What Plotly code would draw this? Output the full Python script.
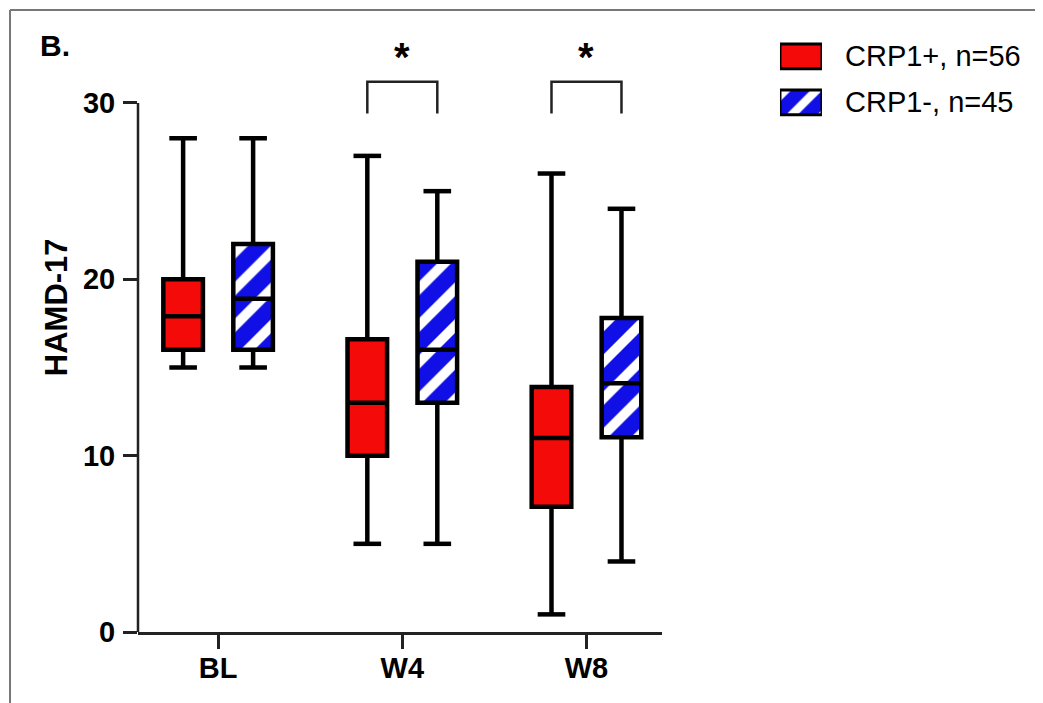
import plotly.graph_objects as go

# ---- data ----
categories = ["BL", "W4", "W8"]
cat_index = [0, 1, 2]

pos_name = "CRP1+, n=56"
pos_low = [15, 5, 1]
pos_q1 = [16, 10, 7.1]
pos_median = [17.9, 13, 11]
pos_q3 = [20, 16.6, 13.9]
pos_high = [28, 27, 26]

neg_name = "CRP1-, n=45"
neg_low = [15, 5, 4]
neg_q1 = [16, 13, 11.05]
neg_median = [18.9, 16, 14.1]
neg_q3 = [22, 21, 17.8]
neg_high = [28, 25, 24]

sig_categories = [1, 2]      # W4, W8 marked significant
sig_label = "*"
sig_bracket_top = 31.2
sig_bracket_bottom = 29.4
sig_star_y = 32.6

y_ticks = [0, 10, 20, 30]
y_title = "HAMD-17"

# ---- styling ----
RED = "#f50a0a"
BLUE = "#1010e6"
OFFSET = 0.19
BOX_W = 0.215
CAP_HALF = 0.075
LW = 4.5
FONT = "Liberation Sans, Arial, sans-serif"
PATTERN = dict(shape="/", fillmode="overlay", fgcolor="white", fgopacity=1,
               size=26, solidity=0.38)


def whisker_paths(xs, low, q1, med, q3, high):
    wx, wy = [], []
    for x, lo, a, m, b, hi in zip(xs, low, q1, med, q3, high):
        wx += [x, x, None, x - CAP_HALF, x + CAP_HALF, None]
        wy += [lo, a, None, lo, lo, None]
        wx += [x, x, None, x - CAP_HALF, x + CAP_HALF, None]
        wy += [b, hi, None, hi, hi, None]
        wx += [x - BOX_W / 2, x + BOX_W / 2, None]
        wy += [m, m, None]
    return wx, wy


pos_x = [c - OFFSET for c in cat_index]
neg_x = [c + OFFSET for c in cat_index]

fig = go.Figure()

fig.add_trace(go.Bar(
    x=pos_x, base=pos_q1, y=[b - a for a, b in zip(pos_q1, pos_q3)],
    width=BOX_W, name=pos_name, showlegend=False,
    marker=dict(color=RED, line=dict(color="black", width=LW)),
    hoverinfo="skip",
))
fig.add_trace(go.Bar(
    x=neg_x, base=neg_q1, y=[b - a for a, b in zip(neg_q1, neg_q3)],
    width=BOX_W, name=neg_name, showlegend=False,
    marker=dict(color=BLUE, line=dict(color="black", width=LW), pattern=PATTERN),
    hoverinfo="skip",
))

for xs, lo, a, m, b, hi in [(pos_x, pos_low, pos_q1, pos_median, pos_q3, pos_high),
                            (neg_x, neg_low, neg_q1, neg_median, neg_q3, neg_high)]:
    wx, wy = whisker_paths(xs, lo, a, m, b, hi)
    fig.add_trace(go.Scatter(x=wx, y=wy, mode="lines", showlegend=False,
                             line=dict(color="black", width=LW), hoverinfo="skip"))

# significance brackets
bx, by = [], []
for c in sig_categories:
    x0, x1 = c - OFFSET, c + OFFSET
    bx += [x0, x0, x1, x1, None]
    by += [sig_bracket_bottom, sig_bracket_top, sig_bracket_top, sig_bracket_bottom, None]
fig.add_trace(go.Scatter(x=bx, y=by, mode="lines", showlegend=False,
                         line=dict(color="#222222", width=2.5), hoverinfo="skip"))
for c in sig_categories:
    fig.add_annotation(x=c, y=sig_star_y, text="<b>%s</b>" % sig_label, showarrow=False,
                       font=dict(family=FONT, size=40, color="black"))

# ---- legend built on a small hidden axis pair ----
legend_names = [neg_name, pos_name]     # bottom to top
fig.add_trace(go.Bar(x=[1], y=[1], base=[0], width=0.54, orientation="h",
                     xaxis="x2", yaxis="y2", showlegend=False, hoverinfo="skip",
                     marker=dict(color=RED, line=dict(color="black", width=3))))
fig.add_trace(go.Bar(x=[1], y=[0], base=[0], width=0.54, orientation="h",
                     xaxis="x2", yaxis="y2", showlegend=False, hoverinfo="skip",
                     marker=dict(color=BLUE, line=dict(color="black", width=3),
                                 pattern=dict(PATTERN, size=22))))
for i, name in enumerate(legend_names):
    fig.add_annotation(xref="paper", yref="y2", x=0.788, y=i, xanchor="left",
                       yanchor="middle", text=name, showarrow=False,
                       font=dict(family=FONT, size=29, color="black"))

# y axis line only up to 30
fig.add_shape(type="line", xref="paper", yref="y", x0=0, x1=0, y0=0, y1=max(y_ticks),
              line=dict(color="#222222", width=2.5))

# y axis title
fig.add_annotation(xref="paper", yref="paper", x=-0.0916, y=0.529, textangle=-90,
                   xanchor="center", yanchor="middle", text="<b>%s</b>" % y_title,
                   showarrow=False, font=dict(family=FONT, size=31, color="black"))

# panel label
fig.add_annotation(xref="paper", yref="paper", x=-0.112, y=0.956, xanchor="left",
                   yanchor="middle", text="<b>B.</b>", showarrow=False,
                   font=dict(family=FONT, size=30, color="black"))

# image frame (top and left)
fig.add_shape(type="line", xref="paper", yref="paper", x0=-0.143, x1=1.2, y0=1.013, y1=1.013,
              line=dict(color="#777777", width=2))
fig.add_shape(type="line", xref="paper", yref="paper", x0=-0.143, x1=-0.143, y0=1.013, y1=-0.2,
              line=dict(color="#777777", width=2))

fig.update_layout(
    width=1035, height=695,
    margin=dict(l=130, r=10, t=10, b=71),
    paper_bgcolor="white", plot_bgcolor="white",
    barmode="overlay",
    font=dict(family=FONT, color="black"),
    showlegend=False,
    xaxis=dict(domain=[0, 524 / 895], range=[-0.435, 2.41], tickmode="array",
               tickvals=cat_index,
               ticktext=["<b>%s</b>" % c for c in categories],
               showline=True, linecolor="#222222", linewidth=2.5,
               ticks="outside", ticklen=14, tickwidth=2.5, tickcolor="#222222",
               showgrid=False, zeroline=False, ticklabelstandoff=-6,
               tickfont=dict(family=FONT, size=29, color="black")),
    yaxis=dict(range=[0, 34.82], tickmode="array", tickvals=y_ticks,
               ticktext=["<b>%d</b>" % t for t in y_ticks],
               showline=False, ticks="outside", ticklen=14, tickwidth=2.5,
               tickcolor="#222222", showgrid=False, zeroline=False,
               ticklabelstandoff=2,
               tickfont=dict(family=FONT, size=29, color="black")),
    xaxis2=dict(domain=[0.7173, 0.7642], range=[0, 1], visible=False, anchor="y2",
                fixedrange=True),
    yaxis2=dict(domain=[0.825, 0.975], range=[-0.5, 1.5], visible=False, anchor="x2",
                fixedrange=True),
)

fig.write_html("out.html")
